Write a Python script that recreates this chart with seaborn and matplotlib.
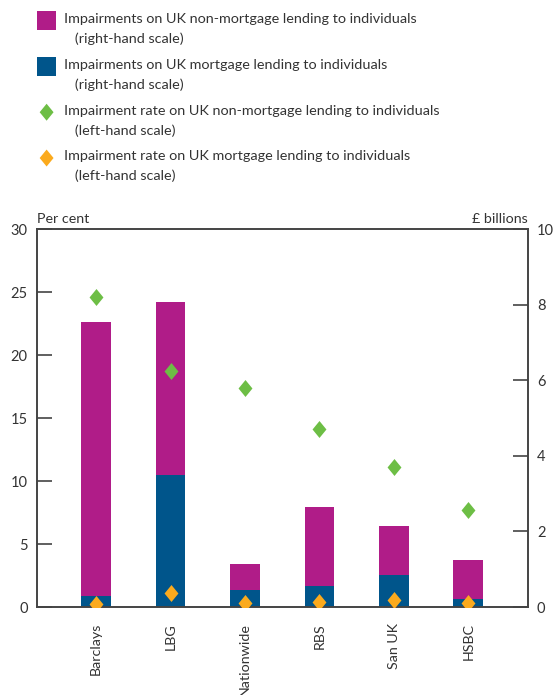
import numpy as np
import pandas as pd
import matplotlib.pyplot as plt
import matplotlib.patches as mpatches
from matplotlib.legend_handler import HandlerPatch
import seaborn as sns

banks = ['Barclays', 'LBG', 'Nationwide', 'RBS', 'San UK', 'HSBC']
# impairments, £ billions (right-hand scale)
impairments_non_mortgage = [7.25, 4.59, 0.69, 2.09, 1.30, 1.04]
impairments_mortgage = [0.28, 3.49, 0.44, 0.55, 0.84, 0.20]
# impairment rates, per cent (left-hand scale)
rate_non_mortgage = [24.6, 18.7, 17.4, 14.1, 11.1, 7.7]
rate_mortgage = [0.24, 1.14, 0.32, 0.40, 0.56, 0.29]

legend_labels = [
    'Impairments on UK non-mortgage lending to individuals\n   (right-hand scale)',
    'Impairments on UK mortgage lending to individuals\n   (right-hand scale)',
    'Impairment rate on UK non-mortgage lending to individuals\n   (left-hand scale)',
    'Impairment rate on UK mortgage lending to individuals\n   (left-hand scale)',
]

MAGENTA = '#B01C88'
BLUE = '#00558B'
GREEN = '#6DBE45'
ORANGE = '#FBAA1D'
TEXT = '#333333'
SPINE = '#444444'

sns.set_theme(style='white')
plt.rcParams['font.family'] = ['Lato', 'DejaVu Sans']
plt.rcParams['text.color'] = TEXT
plt.rcParams['xtick.color'] = SPINE
plt.rcParams['ytick.color'] = SPINE
plt.rcParams['xtick.labelcolor'] = TEXT
plt.rcParams['ytick.labelcolor'] = TEXT

df = pd.DataFrame({
    'bank': banks,
    'non_mortgage': impairments_non_mortgage,
    'mortgage': impairments_mortgage,
    'rate_non_mortgage': rate_non_mortgage,
    'rate_mortgage': rate_mortgage,
})
df['total'] = df['non_mortgage'] + df['mortgage']

# slightly taller than wide diamond
diamond = [(0, 1), (0.82, 0), (0, -1), (-0.82, 0), (0, 1)]

fig = plt.figure(figsize=(5.55, 6.95), dpi=100)
ax = fig.add_axes([0.066, 0.1266, 0.885, 0.5439])
ax2 = ax.twinx()

# bars on the right-hand scale (stacked: total first, mortgage on top)
sns.barplot(data=df, x='bank', y='total', order=banks, color=MAGENTA,
            saturation=1, width=0.4, linewidth=0, ax=ax2)
sns.barplot(data=df, x='bank', y='mortgage', order=banks, color=BLUE,
            saturation=1, width=0.4, linewidth=0, ax=ax2)

# rates on the left-hand scale
sns.stripplot(data=df, x='bank', y='rate_non_mortgage', order=banks, color=GREEN,
              jitter=False, marker=diamond, size=12.2, linewidth=0, ax=ax)
sns.stripplot(data=df, x='bank', y='rate_mortgage', order=banks, color=ORANGE,
              jitter=False, marker=diamond, size=12.2, linewidth=0, ax=ax)

ax.set_zorder(ax2.get_zorder() + 1)
ax.patch.set_visible(False)

ax.set_ylim(0, 30)
ax.set_yticks(np.arange(0, 31, 5))
ax2.set_ylim(0, 10)
ax2.set_yticks(np.arange(0, 11, 2))
ax.set_xlim(-0.8, len(banks) - 0.2)

for a in (ax, ax2):
    a.set_xlabel('')
    a.set_ylabel('')
    for s in a.spines.values():
        s.set_color(SPINE)
        s.set_linewidth(1.2)

ax.tick_params(axis='y', direction='in', length=11, width=1.2, pad=6.5, labelsize=10.5)
ax2.tick_params(axis='y', direction='in', length=11, width=1.2, pad=6.5, labelsize=10.5)

# category labels at bar centres, tick marks on the boundaries
ax.set_xticks(range(len(banks)))
ax.set_xticklabels(banks, rotation=90, fontsize=10.3)
ax.tick_params(axis='x', which='major', length=0, pad=11.5)
ax.set_xticks(np.arange(-0.5, len(banks)), minor=True)
ax.tick_params(axis='x', which='minor', direction='in', length=10, width=1.2)
ax2.tick_params(axis='x', which='both', length=0, labelbottom=False)

ax.annotate('Per cent', xy=(0, 1), xycoords='axes fraction', xytext=(0, 3),
            textcoords='offset points', ha='left', va='bottom', fontsize=10.3)
ax.annotate('£ billions', xy=(1, 1), xycoords='axes fraction', xytext=(0, 3),
            textcoords='offset points', ha='right', va='bottom', fontsize=10.3)

# legend: handle sits next to the first line of each two-line label
HANDLE_Y = 9.6  # points above the handle box origin


def first_line_handler(shape):
    def make(legend, orig_handle, xdescent, ydescent, width, height, fontsize):
        cy = HANDLE_Y
        if shape == 'square':
            side = 13.7
            return mpatches.Rectangle((-xdescent, cy - side / 2), side, side)
        cx = -xdescent + width / 2
        hw, hh = 5.0, 6.1
        return mpatches.Polygon([(cx, cy + hh), (cx + hw, cy), (cx, cy - hh), (cx - hw, cy)],
                                closed=True)
    return HandlerPatch(patch_func=make)


handles = [mpatches.Patch(facecolor=c, edgecolor='none') for c in (MAGENTA, BLUE, GREEN, ORANGE)]
shapes = ['square', 'square', 'diamond', 'diamond']
leg = fig.legend(handles, legend_labels,
                 handler_map={h: first_line_handler(s) for h, s in zip(handles, shapes)},
                 loc='upper left', bbox_to_anchor=(37 / 555, 1 - 13 / 695),
                 frameon=False, borderpad=0, borderaxespad=0,
                 handlelength=1.33, handleheight=0.7, handletextpad=0.56,
                 labelspacing=0.96, prop={'size': 10.4})
for t in leg.get_texts():
    t.set_linespacing(1.7)

fig.savefig('out.png', dpi=100)
